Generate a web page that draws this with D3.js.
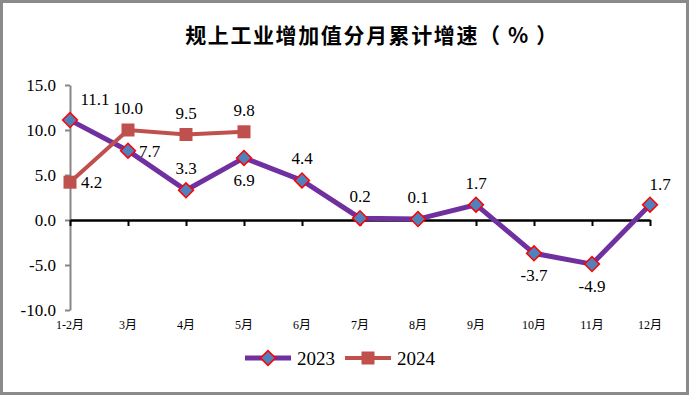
<!DOCTYPE html>
<meta charset="utf-8">
<style>
body { margin: 0; background: #fff; }
svg { display: block; }
</style>
<body>
<svg width="689" height="396"></svg>
<script src="https://cdn.jsdelivr.net/npm/d3@7"></script>
<script>
// data
var months = ["1-2月", "3月", "4月", "5月", "6月", "7月", "8月", "9月", "10月", "11月", "12月"];
var values2023 = [11.1, 7.7, 3.3, 6.9, 4.4, 0.2, 0.1, 1.7, -3.7, -4.9, 1.7];
var values2024 = [4.2, 10.0, 9.5, 9.8];
var yTicks = [-10, -5, 0, 5, 10, 15];
// where each value label sits relative to its point
var labelPos2023 = ["ur", "r", "t", "b", "t", "t", "t", "t", "b", "b", "tr"];
var labelPos2024 = ["r", "t", "t", "t"];

var serif = "'Liberation Serif', 'Times New Roman', serif";
var fmt = function(d) { return d.toFixed(1); };

var svg = d3.select("svg");

svg.append("rect")
    .attr("x", 1.5).attr("y", 1.5)
    .attr("width", 686).attr("height", 392)
    .attr("fill", "#fff")
    .attr("stroke", "#8a8a8a")
    .attr("stroke-width", 3);

svg.append("text")
    .attr("x", 372)
    .attr("y", 43)
    .attr("text-anchor", "middle")
    .style("font-family", "'Noto Sans CJK SC', sans-serif")
    .style("font-size", "21px")
    .style("font-weight", "bold")
    .style("letter-spacing", "1.6px")
    .text("规上工业增加值分月累计增速（ % ）");

var x = d3.scalePoint().domain(months).range([70, 650]).padding(0);
var y = d3.scaleLinear().domain([-10, 15]).range([310, 85]);

// y axis
var yAxis = svg.append("g")
    .attr("transform", "translate(70,0)")
    .call(d3.axisLeft(y).tickValues(yTicks).tickFormat(fmt).tickSize(5).tickSizeOuter(0).tickPadding(9));
yAxis.attr("font-family", null);
yAxis.select(".domain").attr("stroke", "#868686").attr("stroke-width", 2);
yAxis.selectAll(".tick line").attr("stroke", "#868686").attr("stroke-width", 2);
yAxis.selectAll(".tick text")
    .style("font-family", serif)
    .style("font-size", "17px")
    .attr("fill", "#000");

// x axis at zero
var xAxis = svg.append("g")
    .attr("transform", "translate(0," + y(0) + ")")
    .call(d3.axisBottom(x).tickSize(6).tickSizeOuter(0).tickFormat(""));
xAxis.select(".domain").attr("stroke", "#000").attr("stroke-width", 2.5);
xAxis.selectAll(".tick line").attr("stroke", "#000").attr("stroke-width", 2);

svg.append("g").selectAll("text")
    .data(months)
    .enter().append("text")
    .attr("x", function(d) { return x(d); })
    .attr("y", 329)
    .attr("text-anchor", "middle")
    .style("font-family", "'Liberation Serif', 'Noto Sans CJK SC', serif")
    .style("font-size", "12px")
    .text(function(d) { return d; });

var line = d3.line()
    .x(function(d, i) { return x(months[i]); })
    .y(function(d) { return y(d); });

svg.append("path")
    .datum(values2023)
    .attr("d", line)
    .attr("fill", "none")
    .attr("stroke", "#7030A0")
    .attr("stroke-width", 5);

svg.append("path")
    .datum(values2024)
    .attr("d", line)
    .attr("fill", "none")
    .attr("stroke", "#C0504D")
    .attr("stroke-width", 4);

var diamond = d3.symbol().type(d3.symbolSquare).size(110);

function drawDiamond(g, cx, cy) {
  g.append("path")
      .attr("d", diamond())
      .attr("transform", "translate(" + cx + "," + cy + ") rotate(45)")
      .attr("fill", "#4F81BD")
      .attr("stroke", "#FF0000")
      .attr("stroke-width", 1.5);
}
function drawSquare(g, cx, cy) {
  g.append("rect")
      .attr("x", cx - 6.5).attr("y", cy - 6.5)
      .attr("width", 13).attr("height", 13)
      .attr("fill", "#C0504D");
}

var m23 = svg.append("g");
values2023.forEach(function(v, i) { drawDiamond(m23, x(months[i]), y(v)); });
var m24 = svg.append("g");
values2024.forEach(function(v, i) { drawSquare(m24, x(months[i]), y(v)); });

var offsets = {
  t: [0, -16, "middle"],
  b: [0, 28, "middle"],
  r: [11, 6, "start"],
  ur: [25, -15, "middle"],
  tr: [10, -15, "middle"]
};

function labels(vals, pos) {
  svg.append("g").selectAll("text")
      .data(vals)
      .enter().append("text")
      .style("font-family", serif)
      .style("font-size", "17px")
      .attr("x", function(d, i) { return x(months[i]) + offsets[pos[i]][0]; })
      .attr("y", function(d, i) { return y(d) + offsets[pos[i]][1]; })
      .attr("text-anchor", function(d, i) { return offsets[pos[i]][2]; })
      .text(fmt);
}
labels(values2023, labelPos2023);
labels(values2024, labelPos2024);

// legend
var lg = svg.append("g");
lg.append("line").attr("x1", 245).attr("x2", 291).attr("y1", 358).attr("y2", 358)
    .attr("stroke", "#7030A0").attr("stroke-width", 5);
drawDiamond(lg, 268, 358);
lg.append("text").attr("x", 297).attr("y", 365)
    .style("font-family", serif).style("font-size", "19px").text("2023");
lg.append("line").attr("x1", 345).attr("x2", 391).attr("y1", 358).attr("y2", 358)
    .attr("stroke", "#C0504D").attr("stroke-width", 4);
drawSquare(lg, 368, 358);
lg.append("text").attr("x", 397).attr("y", 365)
    .style("font-family", serif).style("font-size", "19px").text("2024");
</script>
</body>
